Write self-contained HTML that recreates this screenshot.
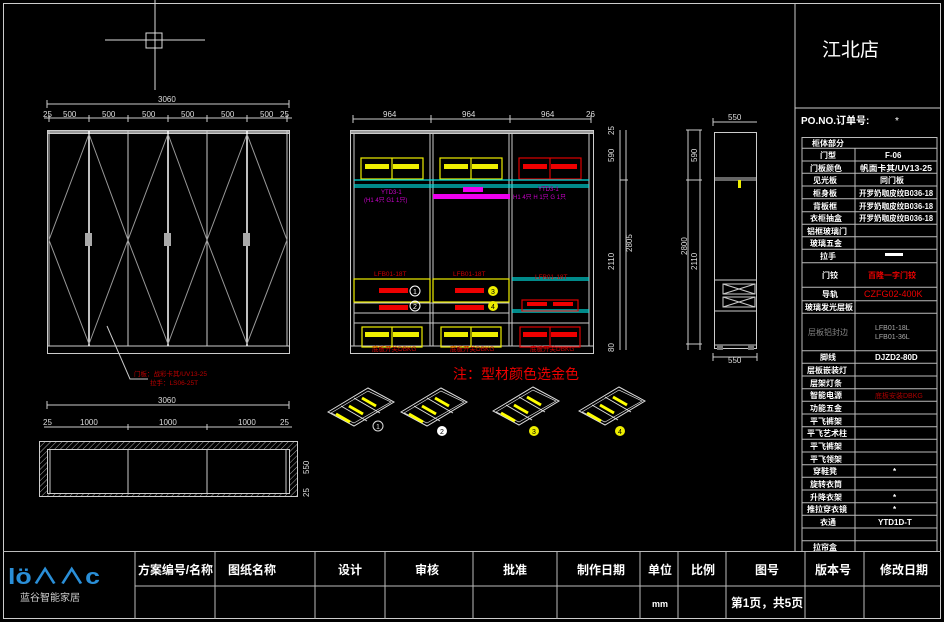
<!DOCTYPE html>
<html><head><meta charset="utf-8"><style>
body{margin:0;background:#000;width:944px;height:622px;overflow:hidden}
svg{display:block}
text{font-family:"Liberation Sans","Noto Sans CJK SC",sans-serif}
</style></head><body>
<svg width="944" height="622" viewBox="0 0 944 622" xmlns="http://www.w3.org/2000/svg">
<defs>
<pattern id="h" width="4" height="4" patternUnits="userSpaceOnUse" patternTransform="rotate(45)"><line x1="0" y1="0" x2="0" y2="4" stroke="#aaa" stroke-width="1"/></pattern>
<g id="tray">
<polygon points="0,18 40,-6 66,8 26,32" fill="none" stroke="#ddd" stroke-width="1"/>
<polygon points="3,19 40,-3 63,8 26,29" fill="none" stroke="#ddd" stroke-width="0.7"/>
<line x1="13" y1="12" x2="39" y2="27" stroke="#ddd"/><line x1="26" y1="4" x2="52" y2="19" stroke="#ddd"/>
<line x1="8" y1="20" x2="22" y2="28" stroke="#ff0" stroke-width="3"/>
<line x1="21" y1="12" x2="35" y2="20" stroke="#ff0" stroke-width="3"/>
<line x1="34" y1="4" x2="48" y2="12" stroke="#ff0" stroke-width="3"/>
</g>
</defs>
<rect x="3.5" y="3.5" width="937" height="615" fill="none" stroke="#ccc"/>
<line x1="795" y1="3" x2="795" y2="551" stroke="#ccc"/>
<line x1="795" y1="108" x2="941" y2="108" stroke="#ccc"/>
<text x="822" y="56" fill="#fff" font-size="19">江北店</text>
<text x="801" y="124" fill="#fff" font-size="10" font-weight="bold">PO.NO.订单号:</text>
<text x="895" y="124" fill="#fff" font-size="10">*</text>

<g stroke="#bbb" fill="none" stroke-width="1">
<rect x="802" y="137.5" width="135" height="414"/>
<line x1="855" y1="148" x2="855" y2="551"/>
<path d="M802 148.3H937M802 161H937M802 173.3H937M802 186H937M802 198.7H937M802 211.7H937M802 224.3H937M802 236.7H937M802 249.3H937M802 262.7H937M802 287.3H937M802 300.7H937M802 313.3H937M802 350.7H937M802 363.3H937M802 376H937M802 388.7H937M802 401.3H937M802 414H937M802 426.7H937M802 439.3H937M802 452H937M802 464.7H937M802 477.3H937M802 490H937M802 502.7H937M802 515.3H937M802 528H937M802 540.7H937"/>
</g>
<g fill="#fff" font-size="8" font-weight="bold">
<text x="812" y="146">柜体部分</text>
<text x="820" y="158">门型</text><text x="885" y="158">F-06</text>
<text x="810" y="171">门板颜色</text><text x="860" y="171" textLength="72" lengthAdjust="spacingAndGlyphs">帆面卡其/UV13-25</text>
<text x="813" y="183">见光板</text><text x="880" y="183">同门板</text>
<text x="813" y="196">柜身板</text><text x="859" y="196" textLength="74" lengthAdjust="spacingAndGlyphs">开罗奶咖皮纹B036-18</text>
<text x="813" y="209">背板框</text><text x="859" y="209" textLength="74" lengthAdjust="spacingAndGlyphs">开罗奶咖皮纹B036-18</text>
<text x="810" y="221">衣柜抽盒</text><text x="859" y="221" textLength="74" lengthAdjust="spacingAndGlyphs">开罗奶咖皮纹B036-18</text>
<text x="807" y="234">铝框玻璃门</text>
<text x="810" y="246">玻璃五金</text>
<text x="820" y="259">拉手</text><rect x="885" y="253" width="18" height="3"/>
<text x="822" y="278">门铰</text><text x="868" y="278" fill="#e00">百隆一字门铰</text>
<text x="822" y="297">导轨</text><text x="864" y="297" fill="#e00" font-weight="normal" font-size="9">CZFG02-400K</text>
<text x="805" y="310">玻璃发光层板</text>
<text x="808" y="335" fill="#888" font-weight="normal">层板铝封边</text>
<text x="875" y="330" fill="#aaa" font-weight="normal" font-size="7">LFB01-18L</text>
<text x="875" y="339" fill="#aaa" font-weight="normal" font-size="7">LFB01-36L</text>
<text x="820" y="360">脚线</text><text x="875" y="360">DJZD2-80D</text>
<text x="807" y="373">层板嵌装灯</text>
<text x="810" y="386">层架灯条</text>
<text x="810" y="398">智能电源</text><text x="875" y="398" fill="#a00" font-weight="normal" font-size="7">底板安装DBKG</text>
<text x="810" y="411">功能五金</text>
<text x="810" y="424">平飞裤架</text>
<text x="807" y="436">平飞艺术柱</text>
<text x="810" y="449">平飞裤架</text>
<text x="810" y="462">平飞领架</text>
<text x="813" y="474">穿鞋凳</text><text x="893" y="474">*</text>
<text x="810" y="487">旋转衣筒</text>
<text x="810" y="500">升降衣架</text><text x="893" y="500">*</text>
<text x="807" y="512">推拉穿衣镜</text><text x="893" y="512">*</text>
<text x="820" y="525">衣通</text><text x="878" y="525">YTD1D-T</text>
<text x="813" y="550">拉帘盒</text>
</g>

<g stroke="#bbb" fill="none">
<line x1="3" y1="551.5" x2="941" y2="551.5"/>
<line x1="135" y1="586" x2="941" y2="586"/>
<path d="M135 551V619M215 551V619M315 551V619M385 551V619M473 551V619M557 551V619M640 551V619M678 551V619M726 551V619M805 551V619M864 551V619"/>
</g>
<g fill="#fff" font-size="12" font-weight="bold">
<text x="138" y="574" textLength="75" lengthAdjust="spacingAndGlyphs">方案编号/名称</text>
<text x="228" y="574">图纸名称</text>
<text x="338" y="574">设计</text>
<text x="415" y="574">审核</text>
<text x="503" y="574">批准</text>
<text x="577" y="574">制作日期</text>
<text x="648" y="574">单位</text>
<text x="691" y="574">比例</text>
<text x="755" y="574">图号</text>
<text x="815" y="574">版本号</text>
<text x="880" y="574">修改日期</text>
<text x="652" y="607" font-size="9">mm</text>
<text x="731" y="607" textLength="72" lengthAdjust="spacingAndGlyphs">第1页，共5页</text>
</g>
<text x="8" y="584" fill="#2a8fd8" font-size="22" font-weight="bold" textLength="92" lengthAdjust="spacingAndGlyphs">lö∧∧c</text>
<text x="20" y="601" fill="#ccc" font-size="10">蓝谷智能家居</text>

<g stroke="#ddd" fill="none">
<line x1="155" y1="0" x2="155" y2="90"/><line x1="105" y1="40" x2="205" y2="40"/>
<rect x="146" y="33" width="16" height="15"/>
</g>

<g stroke="#ccc" fill="none" stroke-width="1">
<path d="M47 104H289M47 100V108M289 100V108"/>
<path d="M44 118H292M49 115V122M89 115V122M128 115V122M168 115V122M207 115V122M247 115V122M287 115V122"/>
<rect x="47.5" y="130.5" width="242" height="223"/>
<rect x="47.5" y="130.5" width="242" height="3" fill="#999"/>
<line x1="47" y1="346" x2="289" y2="346"/>
<path d="M49 131V346M128 131V346M207 131V346M287 131V346"/>
<path d="M89 131V346M168 131V346M247 131V346" stroke="#fff" stroke-width="1.5"/>
<g stroke="#999"><path d="M89 134L49 240L89 344M89 134L128 240L89 344M168 134L128 240L168 344M168 134L207 240L168 344M247 134L207 240L247 344M247 134L287 240L247 344"/></g>
<path d="M107 326L130 379H148"/>
<path d="M47 405H289M47 401V409M289 401V409"/>
<path d="M44 427H292M128 424V430M207 424V430"/>
<rect x="39.5" y="441.5" width="258" height="55" fill="url(#h)"/>
<rect x="47.5" y="449.5" width="242" height="44" fill="#000"/>
<path d="M50 449V493M286 449V493M128 449V493M207 449V493"/>
</g>
<rect x="85" y="233" width="7" height="13" fill="#aaa"/><rect x="164" y="233" width="7" height="13" fill="#aaa"/><rect x="243" y="233" width="7" height="13" fill="#aaa"/>
<g fill="#ddd" font-size="8">
<text x="158" y="102">3060</text>
<text x="43" y="117">25</text><text x="63" y="117">500</text><text x="102" y="117">500</text><text x="142" y="117">500</text><text x="181" y="117">500</text><text x="221" y="117">500</text><text x="260" y="117">500</text><text x="280" y="117">25</text>
<text x="158" y="403">3060</text>
<text x="43" y="425">25</text><text x="80" y="425">1000</text><text x="159" y="425">1000</text><text x="238" y="425">1000</text><text x="280" y="425">25</text>
<text x="309" y="474" transform="rotate(-90 309 474)">550</text>
<text x="309" y="497" transform="rotate(-90 309 497)">25</text>
</g>
<text x="134" y="376" fill="#b00" font-size="6.5">门板：战彩卡其/UV13-25</text>
<text x="150" y="385" fill="#b00" font-size="6.5">拉手：LS06-25T</text>

<g stroke="#ccc" fill="none">
<path d="M353 119H591M353 115V123M431 115V123M510 115V123M591 115V123"/>
<rect x="350.5" y="130.5" width="243" height="223"/>
<rect x="350.5" y="130.5" width="243" height="3" fill="#999"/>
<path d="M354 134V346M430 134V346M433 134V346M509 134V346M512 134V346M589 134V346M350 346H594"/>
<path d="M354 303H509M354 313H509M354 323H589" />
</g>
<g fill="#ddd" font-size="8">
<text x="383" y="117">964</text><text x="462" y="117">964</text><text x="541" y="117">964</text><text x="586" y="117">26</text>
<text x="614" y="162" transform="rotate(-90 614 162)">590</text>
<text x="614" y="270" transform="rotate(-90 614 270)">2110</text>
<text x="632" y="252" transform="rotate(-90 632 252)">2805</text>
<text x="614" y="135" transform="rotate(-90 614 135)">25</text>
<text x="614" y="352" transform="rotate(-90 614 352)">80</text>
</g>
<path d="M620 130V350M626 130V350M620 180H628" stroke="#ccc"/>
<g stroke-width="1.2" fill="none">
<rect x="361" y="158" width="62" height="21" stroke="#ee0"/><line x1="392" y1="158" x2="392" y2="179" stroke="#ee0"/>
<rect x="440" y="158" width="62" height="21" stroke="#ee0"/><line x1="471" y1="158" x2="471" y2="179" stroke="#ee0"/>
<rect x="519" y="158" width="62" height="21" stroke="#d00"/><line x1="550" y1="158" x2="550" y2="179" stroke="#d00"/>
<rect x="362" y="327" width="60" height="20" stroke="#ee0"/><line x1="392" y1="327" x2="392" y2="347" stroke="#ee0"/>
<rect x="441" y="327" width="60" height="20" stroke="#ee0"/><line x1="471" y1="327" x2="471" y2="347" stroke="#ee0"/>
<rect x="520" y="327" width="60" height="20" stroke="#d00"/><line x1="550" y1="327" x2="550" y2="347" stroke="#d00"/>
<path d="M354 180H589M354 185H589M354 187H589" stroke="#0dd"/>
<path d="M512 278H589M512 280H589M512 310H589M512 312H589" stroke="#0dd"/>
<rect x="354" y="279" width="76" height="23" stroke="#ee0"/>
<rect x="433" y="279" width="76" height="23" stroke="#ee0"/>
<rect x="522" y="300" width="56" height="11" stroke="#d00"/>
</g>
<g fill="#ee0"><rect x="365" y="164" width="24" height="5"/><rect x="393" y="164" width="26" height="5"/><rect x="444" y="164" width="24" height="5"/><rect x="472" y="164" width="26" height="5"/>
<rect x="365" y="332" width="24" height="5"/><rect x="393" y="332" width="26" height="5"/><rect x="444" y="332" width="24" height="5"/><rect x="472" y="332" width="26" height="5"/></g>
<g fill="#e00"><rect x="523" y="164" width="24" height="5"/><rect x="551" y="164" width="26" height="5"/><rect x="523" y="332" width="24" height="5"/><rect x="551" y="332" width="26" height="5"/>
<rect x="379" y="288" width="29" height="5"/><rect x="379" y="305" width="29" height="5"/><rect x="455" y="288" width="29" height="5"/><rect x="455" y="305" width="29" height="5"/><rect x="527" y="302" width="20" height="4"/><rect x="553" y="302" width="20" height="4"/></g>
<rect x="463" y="187" width="20" height="5" fill="#e0e"/>
<rect x="433" y="194" width="77" height="5" fill="#e0e"/>
<g fill="#c0c" font-size="6"><text x="381" y="194">YTD3-1</text><text x="364" y="202">(H1 4只 G1 1只)</text>
<text x="538" y="191">YTD3-1</text><text x="513" y="199">H1 4只 H 1只 G 1只</text></g>
<g fill="#c00" font-size="6.5"><text x="374" y="276">LFB01-18T</text><text x="453" y="276">LFB01-18T</text><text x="535" y="279">LFB01-18T</text>
<text x="372" y="351">底板开关DBKG</text><text x="450" y="351">底板开关DBKG</text><text x="530" y="351">底板开关DBKG</text></g>
<g fill="none" stroke="#fff"><circle cx="415" cy="291" r="5"/><circle cx="415" cy="306" r="5"/></g>
<g fill="#ee0"><circle cx="493" cy="291" r="5"/><circle cx="493" cy="306" r="5"/></g>
<g font-size="7" text-anchor="middle"><text x="415" y="294" fill="#fff">1</text><text x="415" y="309" fill="#fff">2</text><text x="493" y="294" fill="#000">3</text><text x="493" y="309" fill="#000">4</text></g>
<text x="453" y="379" fill="#e00" font-size="14">注：型材颜色选金色</text>
<use href="#tray" x="328" y="394"/><use href="#tray" x="401" y="394"/><use href="#tray" x="493" y="393"/><use href="#tray" x="579" y="393"/>
<circle cx="378" cy="426" r="5" fill="none" stroke="#ddd"/><text x="378" y="429" fill="#ddd" font-size="7" text-anchor="middle">1</text>
<circle cx="442" cy="431" r="5" fill="#fff"/><text x="442" y="434" fill="#000" font-size="7" text-anchor="middle">2</text>
<circle cx="534" cy="431" r="5" fill="#ee0"/><text x="534" y="434" fill="#000" font-size="7" text-anchor="middle">3</text>
<circle cx="620" cy="431" r="5" fill="#ee0"/><text x="620" y="434" fill="#000" font-size="7" text-anchor="middle">4</text>

<g stroke="#ccc" fill="none">
<path d="M713 122H757M713 118V126M713 357H757M713 353V361M757 353V361"/>
<rect x="714.5" y="132.5" width="42" height="216"/>
<path d="M714 178H757M714 180H757M714 280H757M714 311H757M714 345H757"/>
<rect x="723" y="284" width="32" height="10"/><rect x="723" y="297" width="32" height="10"/>
<path d="M723 284L755 294M755 284L723 294M723 297L755 307M755 297L723 307"/>
<path d="M688 130V350M700 130V350M686 130H702M686 180H702M686 344H702"/>
</g>
<rect x="738" y="180" width="3" height="8" fill="#ee0"/>
<rect x="717" y="345" width="6" height="5" fill="#777"/><rect x="748" y="345" width="6" height="5" fill="#777"/>
<g fill="#ddd" font-size="8"><text x="728" y="120">550</text><text x="728" y="363">550</text>
<text x="697" y="162" transform="rotate(-90 697 162)">590</text>
<text x="697" y="270" transform="rotate(-90 697 270)">2110</text>
<text x="687" y="255" transform="rotate(-90 687 255)">2800</text></g>
</svg>
</body></html>
